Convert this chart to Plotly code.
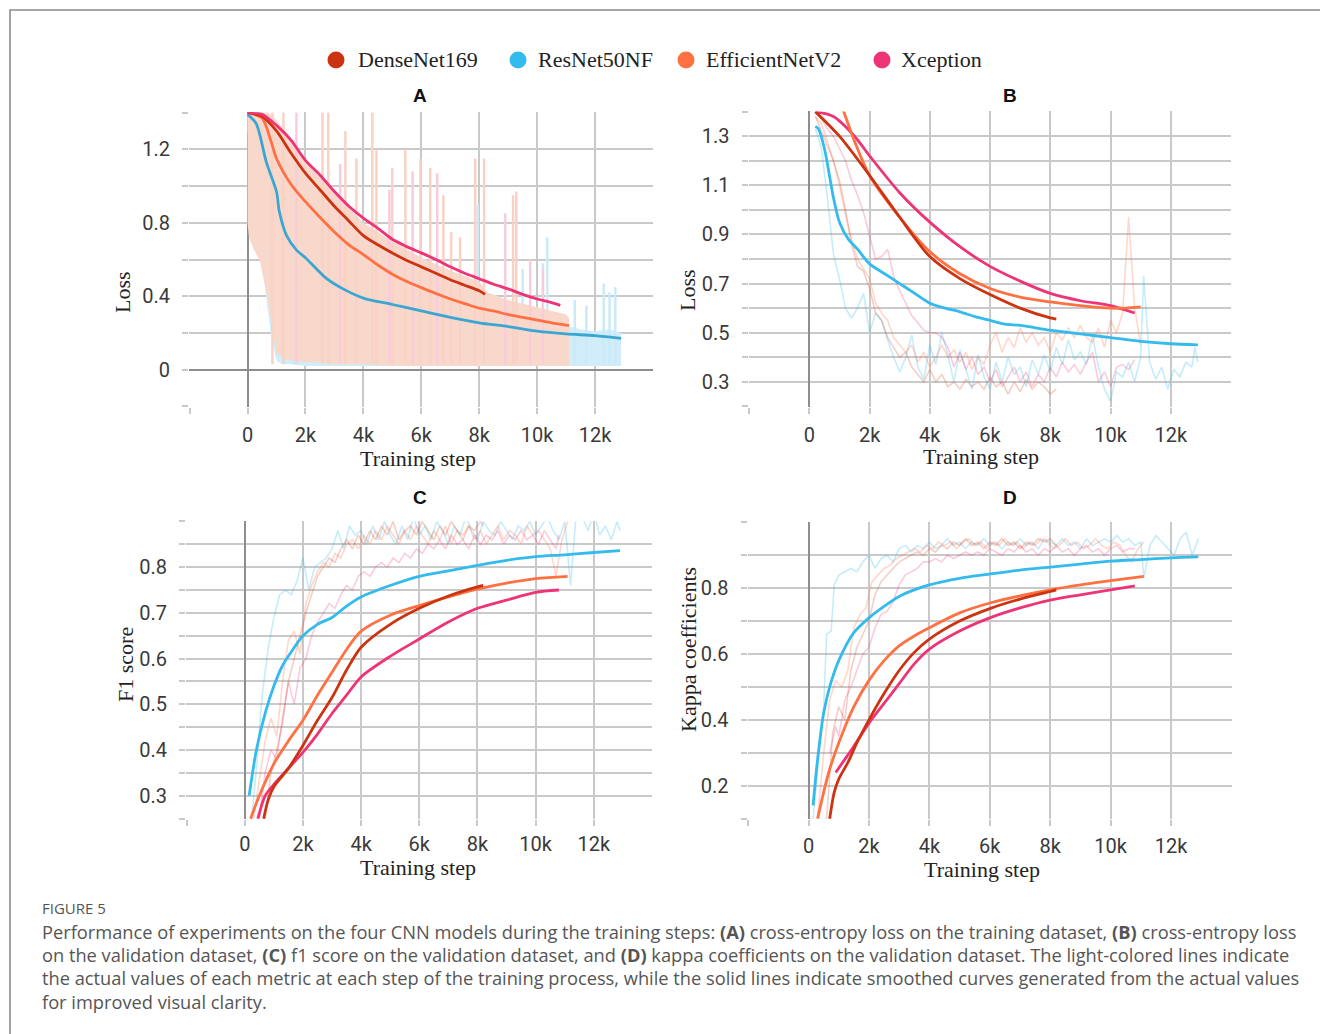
import plotly.graph_objects as go

W, H = 1320, 1034

# ---------------- series / colours ----------------
NAMES = ["DenseNet169", "ResNet50NF", "EfficientNetV2", "Xception"]
COL_DENSE = "#cc3311"
COL_RES = "#33bbee"
COL_EFF = "#ff7043"
COL_XCP = "#ee3377"
RAW_DENSE = "rgba(214,80,50,0.28)"
RAW_RES = "rgba(51,187,238,0.28)"
RAW_EFF = "rgba(255,112,67,0.28)"
RAW_XCP = "rgba(238,51,119,0.26)"

# ---------------- tick labels ----------------
X_TICKVALS = [-2, 0, 2, 4, 6, 8, 10, 12]
X_TICKTEXT = ["", "0", "2k", "4k", "6k", "8k", "10k", "12k"]
A_YTICKVALS = [-0.2, 0, 0.2, 0.4, 0.6, 0.8, 1.0, 1.2, 1.4]
A_YTICKTEXT = ["", "0", "", "0.4", "", "0.8", "", "1.2", ""]
B_YTICKVALS = [0.2, 0.3, 0.4, 0.5, 0.6, 0.7, 0.8, 0.9, 1.0, 1.1, 1.2, 1.3, 1.4]
B_YTICKTEXT = ["", "0.3", "", "0.5", "", "0.7", "", "0.9", "", "1.1", "", "1.3", ""]
C_YTICKVALS = [0.25, 0.3, 0.35, 0.4, 0.45, 0.5, 0.55, 0.6, 0.65, 0.7, 0.75, 0.8, 0.85, 0.9]
C_YTICKTEXT = ["", "0.3", "", "0.4", "", "0.5", "", "0.6", "", "0.7", "", "0.8", "", ""]
D_YTICKVALS = [0.1, 0.2, 0.3, 0.4, 0.5, 0.6, 0.7, 0.8, 0.9, 1.0]
D_YTICKTEXT = ["", "0.2", "", "0.4", "", "0.6", "", "0.8", "", ""]

# ================= Panel A : training loss (step in thousands) =================
A_DENSE_X = [0, 0.5, 1, 1.5, 2, 2.5, 3, 3.5, 4, 4.5, 5, 5.5, 6, 6.5, 7, 7.5, 8, 8.2]
A_DENSE_Y = [1.40, 1.38, 1.30, 1.18, 1.07, 0.98, 0.89, 0.81, 0.73, 0.68, 0.635, 0.595, 0.56, 0.525, 0.49, 0.46, 0.43, 0.41]
A_RES_X = [0, 0.3, 0.65, 1.0, 1.1, 1.35, 1.7, 2, 2.7, 3.3, 4, 5, 6, 7, 8, 9, 10, 11, 12, 12.9]
A_RES_Y = [1.39, 1.34, 1.13, 0.97, 0.86, 0.73, 0.65, 0.61, 0.50, 0.44, 0.39, 0.355, 0.32, 0.285, 0.255, 0.235, 0.21, 0.195, 0.185, 0.17]
A_EFF_X = [0, 0.5, 0.8, 1.0, 1.5, 2.0, 2.5, 3, 3.5, 4, 4.5, 5, 5.5, 6, 6.5, 7, 7.5, 8, 8.5, 9, 9.5, 10, 10.5, 11.1]
A_EFF_Y = [1.40, 1.37, 1.25, 1.15, 1.01, 0.915, 0.83, 0.75, 0.68, 0.627, 0.57, 0.52, 0.48, 0.447, 0.415, 0.385, 0.36, 0.335, 0.32, 0.30, 0.285, 0.27, 0.255, 0.24]
A_XCP_X = [0, 0.5, 1.0, 1.5, 2.0, 2.5, 3, 3.5, 4, 4.5, 5, 5.5, 6, 6.5, 7, 7.5, 8, 8.5, 9, 9.5, 10, 10.5, 10.8]
A_XCP_Y = [1.40, 1.39, 1.33, 1.25, 1.14, 1.06, 0.97, 0.89, 0.825, 0.77, 0.71, 0.67, 0.636, 0.60, 0.56, 0.525, 0.495, 0.465, 0.44, 0.41, 0.385, 0.365, 0.35]

# raw (per-step) values in A are very dense: read as an envelope plus the tall spikes
A_BLUE_X = [0.0, 0.3, 0.6, 0.8, 1.0, 1.2, 1.5, 2.0, 3.0, 4.0, 6.0, 8.0, 10.0, 11.0, 11.5, 12.0, 12.5, 12.9]
A_BLUE_HI = [1.40, 1.38, 1.25, 1.10, 0.95, 0.85, 0.75, 0.66, 0.55, 0.47, 0.38, 0.32, 0.27, 0.24, 0.22, 0.21, 0.22, 0.20]
A_BLUE_LO = [1.30, 1.00, 0.45, 0.20, 0.05, 0.03, 0.03, 0.02, 0.02, 0.02, 0.02, 0.02, 0.02, 0.02, 0.02, 0.02, 0.02, 0.02]
A_SALMON_X = [0, 0.05, 0.2, 0.43, 0.72, 1.0, 1.3, 1.6, 2.0, 2.5, 3.0, 3.5, 4.0, 5.0, 6.0, 7.0, 8.0, 8.3, 9.0, 10.0, 11.0, 11.1]
A_SALMON_HI = [1.40, 1.40, 1.40, 1.40, 1.40, 1.36, 1.30, 1.24, 1.14, 1.05, 0.96, 0.88, 0.80, 0.70, 0.61, 0.54, 0.48, 0.42, 0.38, 0.34, 0.30, 0.28]
A_SALMON_LO = [0.80, 0.72, 0.66, 0.59, 0.36, 0.09, 0.06, 0.05, 0.04, 0.04, 0.03, 0.03, 0.03, 0.02, 0.02, 0.02, 0.02, 0.02, 0.02, 0.02, 0.02, 0.02]
A_SPIKE_BASE = 0.03
A_SPIKE_SALMON_X = [0.86, 1.24, 2.59, 2.79, 3.38, 3.76, 4.31, 4.45, 5.00, 5.45, 5.97, 6.31, 6.76, 7.03, 7.34, 7.86, 8.17, 9.17, 9.28]
A_SPIKE_SALMON_Y = [1.40, 1.40, 1.40, 1.40, 1.30, 1.15, 1.40, 1.20, 1.10, 1.20, 1.15, 1.10, 0.95, 0.75, 0.72, 1.15, 1.15, 0.95, 0.97]
A_SPIKE_PINK_X = [1.69, 3.2, 4.9, 5.7, 6.55, 8.9, 9.76, 10.2]
A_SPIKE_PINK_Y = [1.40, 1.12, 0.98, 1.08, 1.07, 0.85, 0.60, 0.55]
A_SPIKE_BLUE_X = [1.6, 2.9, 7.95, 9.5, 10.2, 10.35, 11.3, 11.7, 12.3, 12.5, 12.7]
A_SPIKE_BLUE_Y = [1.25, 0.72, 0.90, 0.55, 0.58, 0.72, 0.38, 0.35, 0.47, 0.42, 0.45]

# ================= Panel B : validation loss =================
B_DENSE_X = [0.2, 1, 2, 3, 4, 5, 6, 7, 8, 8.2]
B_DENSE_Y = [1.40, 1.30, 1.14, 0.97, 0.81, 0.72, 0.655, 0.60, 0.56, 0.555]
B_RES_X = [0.2, 0.3, 0.5, 0.8, 1.0, 1.3, 1.6, 2, 2.5, 3, 3.5, 4, 4.5, 5, 5.5, 6, 6.5, 7, 7.5, 8, 9, 10, 11, 12, 12.9]
B_RES_Y = [1.34, 1.33, 1.25, 1.05, 0.95, 0.88, 0.84, 0.78, 0.74, 0.70, 0.66, 0.62, 0.60, 0.585, 0.565, 0.55, 0.535, 0.53, 0.52, 0.51, 0.495, 0.48, 0.465, 0.455, 0.45]
B_EFF_X = [1.0, 1.5, 2, 3, 4, 5, 6, 7, 8, 9, 10, 10.5, 11]
B_EFF_Y = [1.45, 1.28, 1.14, 0.97, 0.83, 0.74, 0.68, 0.645, 0.625, 0.61, 0.60, 0.60, 0.605]
B_XCP_X = [0.2, 0.8, 1.5, 2, 3, 4, 5, 6, 7, 8, 9, 10, 10.8]
B_XCP_Y = [1.40, 1.38, 1.30, 1.22, 1.07, 0.95, 0.85, 0.77, 0.71, 0.66, 0.63, 0.61, 0.58]

B_RES_RAW_X = [0.2, 0.4, 0.6, 0.8, 1.0, 1.2, 1.4, 1.6, 1.8, 2.0, 2.2, 2.4, 2.6, 2.8, 3.0, 3.2, 3.4, 3.6, 3.8, 4.0,
               4.2, 4.4, 4.6, 4.8, 5.0, 5.2, 5.4, 5.6, 5.8, 6.0, 6.2, 6.4, 6.6, 6.8, 7.0, 7.2, 7.4, 7.6, 7.8, 8.0,
               8.2, 8.4, 8.6, 8.8, 9.0, 9.2, 9.4, 9.6, 9.8, 10.0, 10.2, 10.4, 10.6, 10.8, 11.0, 11.1, 11.3, 11.5,
               11.7, 11.9, 12.1, 12.3, 12.5, 12.7, 12.8, 12.9]
B_RES_RAW_Y = [1.33, 1.25, 1.05, 0.82, 0.72, 0.60, 0.56, 0.60, 0.66, 0.50, 0.58, 0.55, 0.47, 0.40, 0.34, 0.40, 0.49, 0.36, 0.31, 0.45,
               0.37, 0.50, 0.41, 0.30, 0.43, 0.35, 0.27, 0.41, 0.32, 0.27, 0.38, 0.30, 0.40, 0.33, 0.36, 0.28, 0.39, 0.33, 0.41, 0.34,
               0.44, 0.37, 0.47, 0.39, 0.42, 0.37, 0.49, 0.36, 0.27, 0.22, 0.34, 0.32, 0.38, 0.30, 0.40, 0.73, 0.38, 0.31,
               0.36, 0.27, 0.35, 0.32, 0.38, 0.36, 0.44, 0.38]
B_EFF_RAW_X = [0.2, 0.4, 0.6, 0.8, 1.0, 1.2, 1.4, 1.6, 1.8, 2.0, 2.2, 2.4, 2.6, 2.8, 3.0, 3.2, 3.4, 3.6, 3.8, 4.0,
               4.2, 4.4, 4.6, 4.8, 5.0, 5.2, 5.4, 5.6, 5.8, 6.0, 6.2, 6.4, 6.6, 6.8, 7.0, 7.2, 7.4, 7.6, 7.8, 8.0,
               8.2, 8.4, 8.6, 8.8, 9.0, 9.2, 9.4, 9.6, 9.8, 10.0, 10.2, 10.4, 10.6, 10.8, 11.0]
B_EFF_RAW_Y = [1.38, 1.35, 1.28, 1.20, 1.10, 0.98, 0.88, 0.80, 0.76, 0.72, 0.62, 0.58, 0.55, 0.48, 0.45, 0.42, 0.45, 0.38, 0.42, 0.36,
               0.40, 0.45, 0.40, 0.43, 0.38, 0.42, 0.35, 0.40, 0.37, 0.45, 0.50, 0.42, 0.48, 0.44, 0.52, 0.46, 0.50, 0.45, 0.48, 0.42,
               0.50, 0.47, 0.52, 0.48, 0.53, 0.48, 0.46, 0.52, 0.44, 0.55, 0.50, 0.58, 0.97, 0.60, 0.45]
B_DENSE_RAW_X = [0.2, 0.4, 0.6, 0.8, 1.0, 1.2, 1.4, 1.6, 1.8, 2.0, 2.2, 2.4, 2.6, 2.8, 3.0, 3.2, 3.4, 3.6, 3.8, 4.0,
                 4.2, 4.4, 4.6, 4.8, 5.0, 5.2, 5.4, 5.6, 5.8, 6.0, 6.2, 6.4, 6.6, 6.8, 7.0, 7.2, 7.4, 7.6, 7.8, 8.0, 8.2]
B_DENSE_RAW_Y = [1.38, 1.32, 1.26, 1.20, 1.12, 1.00, 0.86, 0.77, 0.75, 0.68, 0.58, 0.55, 0.48, 0.44, 0.40, 0.42, 0.36, 0.33, 0.30, 0.35,
                 0.30, 0.33, 0.28, 0.30, 0.27, 0.31, 0.28, 0.30, 0.27, 0.32, 0.28, 0.30, 0.25, 0.30, 0.26, 0.31, 0.27, 0.30, 0.28, 0.25, 0.27]
B_XCP_RAW_X = [0.2, 0.4, 0.6, 0.8, 1.0, 1.2, 1.4, 1.6, 1.8, 2.0, 2.2, 2.4, 2.6, 2.8, 3.0, 3.2, 3.4, 3.6, 3.8, 4.0,
               4.2, 4.4, 4.6, 4.8, 5.0, 5.2, 5.4, 5.6, 5.8, 6.0, 6.2, 6.4, 6.6, 6.8, 7.0, 7.2, 7.4, 7.6, 7.8, 8.0,
               8.2, 8.4, 8.6, 8.8, 9.0, 9.2, 9.4, 9.6, 9.8, 10.0, 10.2, 10.4, 10.6, 10.8]
B_XCP_RAW_Y = [1.40, 1.37, 1.33, 1.30, 1.25, 1.20, 1.12, 1.06, 0.99, 0.89, 0.80, 0.81, 0.84, 0.73, 0.67, 0.62, 0.57, 0.54, 0.51, 0.50,
               0.50, 0.48, 0.44, 0.36, 0.42, 0.35, 0.40, 0.33, 0.36, 0.30, 0.35, 0.28, 0.32, 0.36, 0.30, 0.34, 0.28, 0.33, 0.30, 0.36,
               0.32, 0.38, 0.34, 0.37, 0.33, 0.38, 0.42, 0.30, 0.34, 0.28, 0.36, 0.37, 0.35, 0.39]

# ================= Panel C : F1 score =================
C_DENSE_X = [0.65, 0.8, 1.0, 1.5, 2, 2.5, 3, 3.5, 4, 5, 6, 7, 8, 8.2]
C_DENSE_Y = [0.25, 0.29, 0.32, 0.36, 0.41, 0.465, 0.515, 0.575, 0.625, 0.675, 0.71, 0.737, 0.757, 0.76]
C_RES_X = [0.15, 0.4, 0.7, 1.0, 1.3, 1.6, 2, 2.5, 3, 3.5, 4, 5, 6, 7, 8, 9, 10, 11, 12, 12.9]
C_RES_Y = [0.30, 0.40, 0.48, 0.54, 0.585, 0.615, 0.65, 0.675, 0.69, 0.715, 0.735, 0.76, 0.78, 0.792, 0.804, 0.815, 0.823, 0.827, 0.832, 0.836]
C_EFF_X = [0.2, 0.5, 1, 1.5, 2, 2.5, 3, 3.5, 4, 5, 6, 7, 8, 9, 10, 11.1]
C_EFF_Y = [0.25, 0.30, 0.37, 0.42, 0.465, 0.52, 0.57, 0.62, 0.66, 0.695, 0.716, 0.735, 0.752, 0.765, 0.775, 0.78]
C_XCP_X = [0.45, 0.7, 1.0, 1.5, 2, 2.5, 3, 3.5, 4, 5, 6, 7, 8, 9, 10, 10.8]
C_XCP_Y = [0.25, 0.30, 0.325, 0.36, 0.395, 0.435, 0.48, 0.52, 0.56, 0.605, 0.643, 0.68, 0.71, 0.728, 0.745, 0.75]

C_RES_RAW_X = [0.2, 0.4, 0.6, 0.8, 1.0, 1.2, 1.4, 1.6, 1.8, 2.0, 2.2, 2.4, 2.6, 2.8, 3.0, 3.2, 3.4, 3.6, 3.8, 4.0,
               4.2, 4.4, 4.6, 4.8, 5.0, 5.2, 5.4, 5.6, 5.8, 6.0, 6.2, 6.4, 6.6, 6.8, 7.0, 7.2, 7.4, 7.6, 7.8, 8.0,
               8.2, 8.4, 8.6, 8.8, 9.0, 9.2, 9.4, 9.6, 9.8, 10.0, 10.2, 10.4, 10.6, 10.8, 11.0, 11.2, 11.4, 11.6,
               11.8, 12.0, 12.2, 12.4, 12.6, 12.8, 12.9]
C_RES_RAW_Y = [0.22, 0.36, 0.52, 0.62, 0.69, 0.74, 0.75, 0.74, 0.77, 0.82, 0.75, 0.80, 0.81, 0.82, 0.84, 0.88, 0.84, 0.89, 0.87, 0.88,
               0.85, 0.89, 0.86, 0.90, 0.87, 0.85, 0.89, 0.86, 0.91, 0.87, 0.89, 0.86, 0.90, 0.88, 0.85, 0.89, 0.87, 0.91, 0.88, 0.86,
               0.90, 0.88, 0.87, 0.90, 0.88, 0.86, 0.89, 0.88, 0.90, 0.87, 0.89, 0.91, 0.88, 0.86, 0.90, 0.76, 0.92, 0.91,
               0.88, 0.92, 0.87, 0.89, 0.86, 0.90, 0.88]
C_EFF_RAW_X = [0.3, 0.5, 0.7, 0.9, 1.1, 1.3, 1.5, 1.7, 1.9, 2.1, 2.3, 2.5, 2.7, 2.9, 3.1, 3.3, 3.5, 3.7, 3.9, 4.1,
               4.3, 4.5, 4.7, 4.9, 5.1, 5.3, 5.5, 5.7, 5.9, 6.1, 6.3, 6.5, 6.7, 6.9, 7.1, 7.3, 7.5, 7.7, 7.9, 8.1,
               8.3, 8.5, 8.7, 8.9, 9.1, 9.3, 9.5, 9.7, 9.9, 10.1, 10.3, 10.5, 10.7, 10.9, 11.1]
C_EFF_RAW_Y = [0.25, 0.33, 0.42, 0.47, 0.43, 0.55, 0.64, 0.66, 0.61, 0.72, 0.76, 0.79, 0.81, 0.80, 0.83, 0.82, 0.85, 0.86, 0.84, 0.87,
               0.85, 0.88, 0.86, 0.89, 0.87, 0.85, 0.88, 0.86, 0.89, 0.87, 0.85, 0.88, 0.86, 0.89, 0.85, 0.88, 0.87, 0.89, 0.86, 0.88,
               0.85, 0.87, 0.89, 0.86, 0.88, 0.87, 0.85, 0.89, 0.87, 0.88, 0.86, 0.84, 0.78, 0.86, 0.90]
C_DENSE_RAW_X = [0.7, 0.9, 1.1, 1.3, 1.5, 1.7, 1.9, 2.1, 2.3, 2.5, 2.7, 2.9, 3.1, 3.3, 3.5, 3.7, 3.9, 4.1, 4.3, 4.5,
                 4.7, 4.9, 5.1, 5.3, 5.5, 5.7, 5.9, 6.1, 6.3, 6.5, 6.7, 6.9, 7.1, 7.3, 7.5, 7.7, 7.9, 8.1, 8.2]
C_DENSE_RAW_Y = [0.25, 0.35, 0.40, 0.46, 0.55, 0.60, 0.65, 0.70, 0.74, 0.78, 0.80, 0.82, 0.81, 0.84, 0.86, 0.84, 0.87, 0.85, 0.88, 0.86,
                 0.89, 0.87, 0.90, 0.86, 0.88, 0.89, 0.87, 0.90, 0.88, 0.86, 0.89, 0.87, 0.90, 0.88, 0.86, 0.89, 0.88, 0.90, 0.89]
C_XCP_RAW_X = [0.5, 0.7, 0.9, 1.1, 1.3, 1.5, 1.7, 1.9, 2.1, 2.3, 2.5, 2.7, 2.9, 3.1, 3.3, 3.5, 3.7, 3.9, 4.1, 4.3,
               4.5, 4.7, 4.9, 5.1, 5.3, 5.5, 5.7, 5.9, 6.1, 6.3, 6.5, 6.7, 6.9, 7.1, 7.3, 7.5, 7.7, 7.9, 8.1, 8.3,
               8.5, 8.7, 8.9, 9.1, 9.3, 9.5, 9.7, 9.9, 10.1, 10.3, 10.5, 10.7, 10.8]
C_XCP_RAW_Y = [0.25, 0.35, 0.40, 0.38, 0.47, 0.55, 0.50, 0.58, 0.60, 0.65, 0.68, 0.70, 0.72, 0.71, 0.74, 0.76, 0.75, 0.78, 0.79, 0.78,
               0.80, 0.81, 0.80, 0.82, 0.81, 0.83, 0.82, 0.84, 0.83, 0.85, 0.84, 0.86, 0.84, 0.87, 0.85, 0.86, 0.84, 0.87, 0.85, 0.87,
               0.86, 0.88, 0.85, 0.87, 0.86, 0.88, 0.86, 0.87, 0.85, 0.88, 0.86, 0.84, 0.87]

# ================= Panel D : kappa coefficients =================
D_DENSE_X = [0.7, 0.85, 1.0, 1.3, 1.6, 2, 2.5, 3, 3.5, 4, 5, 6, 7, 8, 8.2]
D_DENSE_Y = [0.10, 0.18, 0.22, 0.27, 0.33, 0.40, 0.48, 0.55, 0.605, 0.645, 0.70, 0.738, 0.767, 0.79, 0.795]
D_RES_X = [0.15, 0.3, 0.5, 0.7, 1.0, 1.5, 2, 2.5, 3, 3.5, 4, 5, 6, 7, 8, 9, 10, 11, 12, 12.9]
D_RES_Y = [0.14, 0.28, 0.42, 0.50, 0.58, 0.665, 0.71, 0.745, 0.775, 0.795, 0.81, 0.83, 0.843, 0.855, 0.864, 0.873, 0.882, 0.887, 0.892, 0.895]
D_EFF_X = [0.3, 0.5, 0.7, 1, 1.5, 2, 2.5, 3, 3.5, 4, 5, 6, 7, 8, 9, 10, 11.1]
D_EFF_Y = [0.10, 0.18, 0.25, 0.33, 0.44, 0.52, 0.58, 0.625, 0.655, 0.68, 0.725, 0.755, 0.777, 0.795, 0.81, 0.823, 0.836]
D_XCP_X = [0.9, 1.2, 1.5, 2, 2.5, 3, 3.5, 4, 5, 6, 7, 8, 9, 10, 10.8]
D_XCP_Y = [0.24, 0.28, 0.32, 0.39, 0.45, 0.51, 0.57, 0.615, 0.67, 0.71, 0.74, 0.764, 0.78, 0.795, 0.807]

D_RES_RAW_X = [0.15, 0.35, 0.5, 0.6, 0.75, 0.85, 1.0, 1.2, 1.4, 1.6, 1.8, 2.0, 2.2, 2.4, 2.6, 2.8, 3.0, 3.2, 3.4, 3.6,
               3.8, 4.0, 4.2, 4.4, 4.6, 4.8, 5.0, 5.2, 5.4, 5.6, 5.8, 6.0, 6.2, 6.4, 6.6, 6.8, 7.0, 7.2, 7.4, 7.6,
               7.8, 8.0, 8.2, 8.4, 8.6, 8.8, 9.0, 9.2, 9.4, 9.6, 9.8, 10.0, 10.2, 10.4, 10.6, 10.8, 11.0, 11.1,
               11.3, 11.5, 11.7, 11.9, 12.1, 12.3, 12.5, 12.7, 12.9]
D_RES_RAW_Y = [0.10, 0.29, 0.44, 0.66, 0.67, 0.81, 0.84, 0.85, 0.86, 0.85, 0.88, 0.90, 0.86, 0.89, 0.90, 0.88, 0.92, 0.93, 0.91, 0.93,
               0.92, 0.94, 0.92, 0.93, 0.95, 0.93, 0.94, 0.92, 0.94, 0.93, 0.95, 0.93, 0.94, 0.92, 0.94, 0.93, 0.95, 0.93, 0.94, 0.92,
               0.95, 0.94, 0.93, 0.95, 0.93, 0.94, 0.92, 0.95, 0.93, 0.94, 0.95, 0.94, 0.96, 0.94, 0.95, 0.93, 0.94, 0.83,
               0.93, 0.96, 0.94, 0.92, 0.90, 0.95, 0.97, 0.90, 0.95]
D_EFF_RAW_X = [0.3, 0.5, 0.7, 0.9, 1.1, 1.3, 1.5, 1.7, 1.9, 2.1, 2.3, 2.5, 2.7, 2.9, 3.1, 3.3, 3.5, 3.7, 3.9, 4.1,
               4.3, 4.5, 4.7, 4.9, 5.1, 5.3, 5.5, 5.7, 5.9, 6.1, 6.3, 6.5, 6.7, 6.9, 7.1, 7.3, 7.5, 7.7, 7.9, 8.1,
               8.3, 8.5, 8.7, 8.9, 9.1, 9.3, 9.5, 9.7, 9.9, 10.1, 10.3, 10.5, 10.7, 10.9, 11.1]
D_EFF_RAW_Y = [0.10, 0.30, 0.46, 0.52, 0.50, 0.55, 0.68, 0.72, 0.74, 0.82, 0.84, 0.86, 0.87, 0.89, 0.90, 0.91, 0.92, 0.91, 0.93, 0.92,
               0.94, 0.93, 0.94, 0.92, 0.94, 0.95, 0.93, 0.94, 0.92, 0.94, 0.93, 0.95, 0.93, 0.94, 0.92, 0.94, 0.93, 0.95, 0.94, 0.92,
               0.93, 0.95, 0.93, 0.94, 0.92, 0.93, 0.95, 0.93, 0.92, 0.94, 0.93, 0.90, 0.88, 0.92, 0.94]
D_DENSE_RAW_X = [0.6, 0.8, 1.0, 1.2, 1.4, 1.6, 1.8, 2.0, 2.2, 2.4, 2.6, 2.8, 3.0, 3.2, 3.4, 3.6, 3.8, 4.0, 4.2, 4.4,
                 4.6, 4.8, 5.0, 5.2, 5.4, 5.6, 5.8, 6.0, 6.2, 6.4, 6.6, 6.8, 7.0, 7.2, 7.4, 7.6, 7.8, 8.0, 8.2]
D_DENSE_RAW_Y = [0.10, 0.36, 0.44, 0.40, 0.55, 0.62, 0.66, 0.70, 0.78, 0.82, 0.84, 0.86, 0.88, 0.89, 0.90, 0.91, 0.90, 0.92, 0.91, 0.93,
                 0.92, 0.94, 0.93, 0.95, 0.93, 0.94, 0.92, 0.94, 0.93, 0.95, 0.93, 0.94, 0.92, 0.94, 0.93, 0.95, 0.94, 0.95, 0.93]
D_XCP_RAW_X = [0.7, 0.9, 1.0, 1.2, 1.4, 1.6, 1.8, 2.0, 2.2, 2.4, 2.6, 2.8, 3.0, 3.2, 3.4, 3.6, 3.8, 4.0, 4.2, 4.4,
               4.6, 4.8, 5.0, 5.2, 5.4, 5.6, 5.8, 6.0, 6.2, 6.4, 6.6, 6.8, 7.0, 7.2, 7.4, 7.6, 7.8, 8.0, 8.2, 8.4,
               8.6, 8.8, 9.0, 9.2, 9.4, 9.6, 9.8, 10.0, 10.2, 10.4, 10.6, 10.8]
D_XCP_RAW_Y = [0.30, 0.38, 0.35, 0.46, 0.50, 0.55, 0.60, 0.62, 0.68, 0.72, 0.73, 0.76, 0.81, 0.84, 0.85, 0.86, 0.88, 0.88, 0.89, 0.88,
               0.90, 0.89, 0.90, 0.91, 0.90, 0.91, 0.90, 0.92, 0.91, 0.90, 0.92, 0.91, 0.93, 0.91, 0.92, 0.90, 0.92, 0.91, 0.93, 0.91,
               0.92, 0.90, 0.92, 0.93, 0.91, 0.92, 0.90, 0.92, 0.93, 0.91, 0.92, 0.92]

CAPTION_LINES = [
    "Performance of experiments on the four CNN models during the training steps: <b>(A)</b> cross-entropy loss on the training dataset, <b>(B)</b> cross-entropy loss",
    "on the validation dataset, <b>(C)</b> f1 score on the validation dataset, and <b>(D)</b> kappa coefficients on the validation dataset. The light-colored lines indicate",
    "the actual values of each metric at each step of the training process, while the solid lines indicate smoothed curves generated from the actual values",
    "for improved visual clarity.",
]

# ---------------- helpers ----------------
def px(x):
    return x / W


def py(y):
    return 1 - y / H


fig = go.Figure()


def line(xs, ys, color, width, ax, smooth=False):
    ln = dict(color=color, width=width)
    if smooth:
        ln.update(shape="spline", smoothing=0.8)
    fig.add_trace(go.Scatter(x=xs, y=ys, mode="lines", line=ln,
                             xaxis="x" + ax, yaxis="y" + ax, showlegend=False, hoverinfo="skip"))


def band(xs, hi, lo, color, ax):
    fig.add_trace(go.Scatter(x=list(xs) + list(xs)[::-1], y=list(hi) + list(lo)[::-1], mode="lines",
                             fill="toself", fillcolor=color, line=dict(width=0, color=color),
                             xaxis="x" + ax, yaxis="y" + ax, showlegend=False, hoverinfo="skip"))


def spikes(xs, tops, base, color, width, ax):
    sx, sy = [], []
    for s, t in zip(xs, tops):
        sx += [s, s, None]
        sy += [base, t, None]
    fig.add_trace(go.Scatter(x=sx, y=sy, mode="lines", line=dict(color=color, width=width),
                             xaxis="x" + ax, yaxis="y" + ax, showlegend=False, hoverinfo="skip"))


SM_W = 2.8
RAW_W = 1.6

# Panel A (axis suffix "")
band(A_BLUE_X, A_BLUE_HI, A_BLUE_LO, "rgb(208,237,249)", "")
spikes(A_SPIKE_BLUE_X, A_SPIKE_BLUE_Y, A_SPIKE_BASE, "rgb(203,234,248)", 2.5, "")
band(A_SALMON_X, A_SALMON_HI, A_SALMON_LO, "rgb(249,216,204)", "")
spikes(A_SPIKE_SALMON_X, A_SPIKE_SALMON_Y, A_SPIKE_BASE, "rgb(249,210,197)", 2.5, "")
spikes(A_SPIKE_PINK_X, A_SPIKE_PINK_Y, A_SPIKE_BASE, "rgb(248,204,219)", 2.5, "")
line(A_RES_X, A_RES_Y, "#3aa6d2", SM_W, "", True)
line(A_EFF_X, A_EFF_Y, COL_EFF, SM_W, "", True)
line(A_DENSE_X, A_DENSE_Y, COL_DENSE, SM_W, "", True)
line(A_XCP_X, A_XCP_Y, COL_XCP, SM_W, "", True)

# Panel B
line(B_RES_RAW_X, B_RES_RAW_Y, RAW_RES, RAW_W, "2")
line(B_EFF_RAW_X, B_EFF_RAW_Y, RAW_EFF, RAW_W, "2")
line(B_DENSE_RAW_X, B_DENSE_RAW_Y, RAW_DENSE, RAW_W, "2")
line(B_XCP_RAW_X, B_XCP_RAW_Y, RAW_XCP, RAW_W, "2")
line(B_RES_X, B_RES_Y, COL_RES, SM_W, "2", True)
line(B_XCP_X, B_XCP_Y, COL_XCP, SM_W, "2", True)
line(B_EFF_X, B_EFF_Y, COL_EFF, SM_W, "2", True)
line(B_DENSE_X, B_DENSE_Y, COL_DENSE, SM_W, "2", True)

# Panel C
line(C_RES_RAW_X, C_RES_RAW_Y, RAW_RES, RAW_W, "3")
line(C_EFF_RAW_X, C_EFF_RAW_Y, RAW_EFF, RAW_W, "3")
line(C_DENSE_RAW_X, C_DENSE_RAW_Y, RAW_DENSE, RAW_W, "3")
line(C_XCP_RAW_X, C_XCP_RAW_Y, RAW_XCP, RAW_W, "3")
line(C_RES_X, C_RES_Y, COL_RES, SM_W, "3", True)
line(C_XCP_X, C_XCP_Y, COL_XCP, SM_W, "3", True)
line(C_EFF_X, C_EFF_Y, COL_EFF, SM_W, "3", True)
line(C_DENSE_X, C_DENSE_Y, COL_DENSE, SM_W, "3", True)

# Panel D
line(D_RES_RAW_X, D_RES_RAW_Y, RAW_RES, RAW_W, "4")
line(D_EFF_RAW_X, D_EFF_RAW_Y, RAW_EFF, RAW_W, "4")
line(D_DENSE_RAW_X, D_DENSE_RAW_Y, RAW_DENSE, RAW_W, "4")
line(D_XCP_RAW_X, D_XCP_RAW_Y, RAW_XCP, RAW_W, "4")
line(D_RES_X, D_RES_Y, COL_RES, SM_W, "4", True)
line(D_XCP_X, D_XCP_Y, COL_XCP, SM_W, "4", True)
line(D_EFF_X, D_EFF_Y, COL_EFF, SM_W, "4", True)
line(D_DENSE_X, D_DENSE_Y, COL_DENSE, SM_W, "4", True)

# ---------------- axes ----------------
GRID = "#c9c9c9"
ZERO = "#8e8e8e"
TICKFONT = dict(family="Roboto", size=20, color="#3a3a3a")


def xcfg(x0, x1, anchor, standoff):
    return dict(domain=[px(x0), px(x1)], range=[-2.02, 14], tickvals=X_TICKVALS, ticktext=X_TICKTEXT,
                showgrid=True, gridcolor=GRID, gridwidth=1.6, ticks="outside", ticklen=6, tickwidth=1.6,
                tickcolor=GRID, zeroline=True, zerolinecolor=ZERO, zerolinewidth=2.2, showline=False,
                tickfont=TICKFONT, ticklabelstandoff=standoff, anchor=anchor, fixedrange=True)


def ycfg(y_top, y_bot, rng, tv, tt, anchor, zero):
    return dict(domain=[py(y_bot), py(y_top)], range=rng, tickvals=tv, ticktext=tt,
                showgrid=True, gridcolor=GRID, gridwidth=1.6, ticks="outside", ticklen=6, tickwidth=1.6,
                tickcolor=GRID, zeroline=zero, zerolinecolor=ZERO, zerolinewidth=2.2, showline=False,
                tickfont=TICKFONT, ticklabelstandoff=8, anchor=anchor, fixedrange=True)


fig.update_layout(
    width=W, height=H, margin=dict(l=0, r=0, t=0, b=0),
    paper_bgcolor="white", plot_bgcolor="white", showlegend=False,
    xaxis=xcfg(189, 653, "y", 4),
    yaxis=ycfg(112.2, 406.8, [-0.202, 1.402], A_YTICKVALS, A_YTICKTEXT, "x", True),
    xaxis2=xcfg(748.5, 1231, "y2", 4),
    yaxis2=ycfg(111.4, 406.6, [0.199, 1.401], B_YTICKVALS, B_YTICKTEXT, "x2", False),
    xaxis3=xcfg(186, 652, "y3", 1),
    yaxis3=ycfg(521.2, 818.9, [0.2495, 0.9005], C_YTICKVALS, C_YTICKTEXT, "x3", False),
    xaxis4=xcfg(747.5, 1231.5, "y4", 3),
    yaxis4=ycfg(522, 819, [0.099, 1.001], D_YTICKVALS, D_YTICKTEXT, "x4", False),
)

# ---------------- text ----------------
ann = []


def text(t, x, y, size, family, color="#222222", xanchor="center", yanchor="middle", angle=0):
    ann.append(dict(text=t, x=px(x), y=py(y), xref="paper", yref="paper", showarrow=False,
                    xanchor=xanchor, yanchor=yanchor, textangle=angle,
                    font=dict(size=size, family=family, color=color)))


SERIF = "Liberation Serif"
SANS = "Liberation Sans"

# panel titles
for lab, (x, y) in zip(["A", "B", "C", "D"], [(420, 95), (1010, 95), (420, 497), (1010, 497)]):
    text("<b>" + lab + "</b>", x, y, 19, SANS, "#111111")

# axis titles
for (x, y) in [(418, 458), (981, 456), (418, 867), (982, 869)]:
    text("Training step", x, y, 22, SERIF)
text("Loss", 122, 292, 22, SERIF, angle=-90)
text("Loss", 688, 290, 22, SERIF, angle=-90)
text("F1 score", 125, 665, 22, SERIF, angle=-90)
text("Kappa coefficients", 688, 650, 22, SERIF, angle=-90)

# legend
LEG_DOT_X = [336, 518, 686, 882]
LEG_TXT_X = [356, 536, 704, 899]
LEG_Y = 60
shapes = []
for name, col, dx, tx in zip(NAMES, [COL_DENSE, COL_RES, COL_EFF, COL_XCP], LEG_DOT_X, LEG_TXT_X):
    r = 8.5
    shapes.append(dict(type="circle", xref="paper", yref="paper", x0=px(dx - r), x1=px(dx + r),
                       y0=py(LEG_Y + r), y1=py(LEG_Y - r), fillcolor=col, line=dict(width=0)))
    text(name, tx, LEG_Y, 22, SERIF, xanchor="left")

# caption
text("FIGURE 5", 40, 908, 15, "Open Sans", "#555555", xanchor="left")
for i, ln in enumerate(CAPTION_LINES):
    text(ln, 40, 931 + i * 23.4, 18.25, "Open Sans", "#555555", xanchor="left")

# outer frame
shapes.append(dict(type="rect", xref="paper", yref="paper", x0=px(10), x1=px(1340), y0=py(1060), y1=py(10),
                   line=dict(color="#8a8a8a", width=1.6), fillcolor="rgba(0,0,0,0)", layer="below"))

fig.update_layout(annotations=ann, shapes=shapes)

fig.write_html("out.html", config={"displayModeBar": False},
               post_script="document.body.style.margin='0';document.body.style.overflow='hidden';")
